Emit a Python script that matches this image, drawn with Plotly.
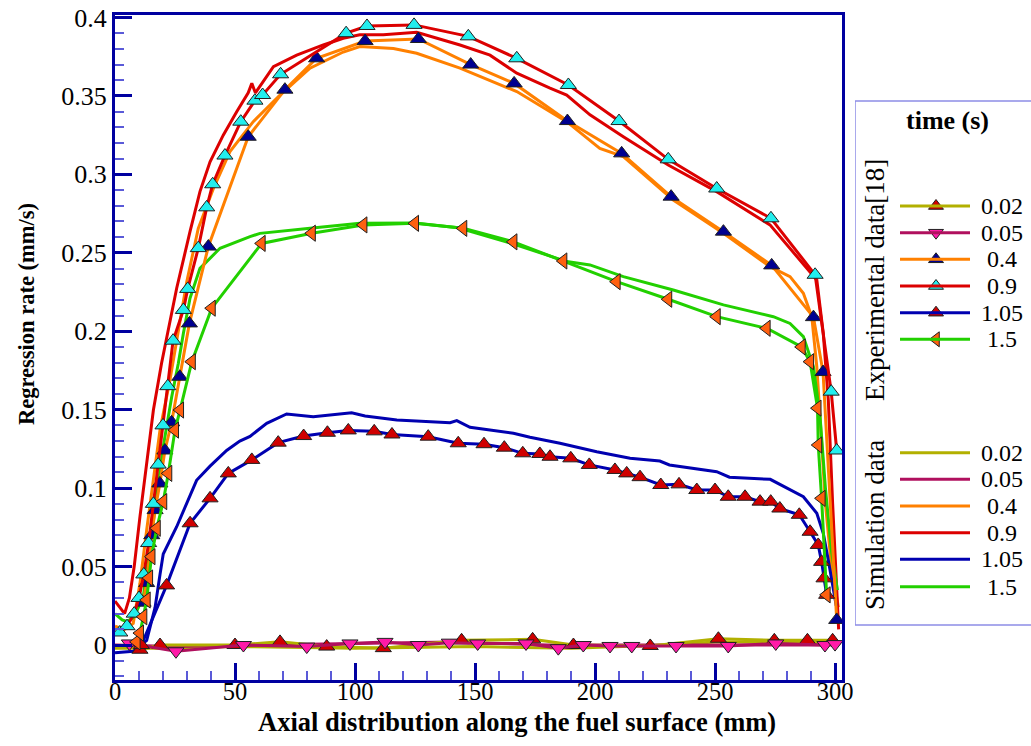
import plotly.graph_objects as go

# ---------------- data: regression rate (mm/s) vs axial position (mm) ----------------
# Simulation data
sim_002_x = [0, 20, 50, 100, 150, 190, 230, 250, 285, 300]
sim_002_y = [-0.002, -0.002, -0.001, -0.002, -0.001, -0.002, 0.0, 0.002, 0.002, 0.001]

sim_005_x = [0, 25, 60, 100, 140, 180, 220, 260, 300]
sim_005_y = [0.0, -0.001, 0.0, 0.001, 0.002, 0.0, 0.0, 0.0, 0.0]

sim_04_x = [0, 4, 7.6, 10.4, 13.2, 16, 18.75, 22.9, 25.7, 29.9, 34.7, 41, 47.9, 57.6, 68.75,
            81.25, 95.1, 102, 116, 125.7, 143.75, 167.4, 188.2, 202, 211.8, 232.6, 253.5,
            272.9, 281.25, 286.8, 290.3, 292.4, 293.75, 296, 298.5, 301.4]
sim_04_y = [0.012, 0.01, 0.0138, 0.0393, 0.0733, 0.105, 0.137, 0.169, 0.1944, 0.2316, 0.2656,
            0.291, 0.3145, 0.3336, 0.3506, 0.3677, 0.378, 0.3815, 0.3803, 0.3772, 0.3677,
            0.3528, 0.3336, 0.3166, 0.3113, 0.2837, 0.2624, 0.2412, 0.2348, 0.2242, 0.2093,
            0.1774, 0.1455, 0.09, 0.05, 0.024]

sim_09_x = [0, 2, 4, 6, 8, 10.4, 13.2, 16, 19.4, 22.2, 25.7, 31.25, 35.4, 39.6, 45.1, 50.7,
            55.5, 57, 58.5, 66, 75.7, 86.8, 95.1, 102, 111.8, 125.7, 143.75, 156.25, 167.4,
            181.25, 188.2, 197.9, 211.8, 230.5, 250.7, 272.9, 284, 292.4, 295.1, 297.2, 299,
            300.5, 301.5]
sim_09_y = [0.028, 0.024, 0.02, 0.03, 0.05, 0.0818, 0.1158, 0.1498, 0.1796, 0.2008, 0.2274,
            0.2635, 0.289, 0.308, 0.325, 0.34, 0.352, 0.358, 0.352, 0.3687, 0.376, 0.3825,
            0.3868, 0.389, 0.389, 0.3906, 0.3825, 0.376, 0.3645, 0.355, 0.3506, 0.338, 0.324,
            0.306, 0.289, 0.2678, 0.2475, 0.2327, 0.1987, 0.156, 0.09, 0.04, 0.01]

sim_105_x = [0, 7.6, 13.2, 16.7, 18.75, 20.1, 25.7, 34, 39.6, 46.5, 52, 56.25, 63.2, 71.5,
             82.6, 91, 98.6, 104.2, 117.4, 139.6, 142.4, 147.9, 166, 172.9, 185.4, 200.7,
             214.6, 227, 231, 250.7, 256, 273, 278.5, 286.8, 292.4, 295.1, 297.2, 299.3, 300.5]
sim_105_y = [-0.005, -0.004, 0.003, 0.024, 0.045, 0.058, 0.0754, 0.105, 0.114, 0.124, 0.13,
             0.133, 0.1413, 0.1473, 0.1455, 0.1466, 0.148, 0.146, 0.1434, 0.1417, 0.143,
             0.1388, 0.135, 0.1324, 0.1286, 0.1232, 0.119, 0.1173, 0.1148, 0.1105, 0.107,
             0.1056, 0.101, 0.0945, 0.084, 0.0712, 0.054, 0.037, 0.025]

sim_15_x = [0, 3, 5, 8, 11.8, 14.6, 17.4, 20.1, 23.6, 26.4, 28.5, 31.25, 35.4, 43.75, 56.25,
            60.4, 81.25, 102, 125, 143, 167.4, 188.2, 197.9, 211.8, 232.6, 253.5, 274.3,
            281.25, 286.8, 291, 293.75, 296, 298.5, 301]
sim_15_y = [0.02, 0.016, 0.015, 0.018, 0.0308, 0.0627, 0.0945, 0.1264, 0.158, 0.1796, 0.1987,
            0.221, 0.2401, 0.2529, 0.2603, 0.2624, 0.2656, 0.2688, 0.269, 0.266, 0.255,
            0.2444, 0.2423, 0.2348, 0.2263, 0.2168, 0.2093, 0.205, 0.1966, 0.1774, 0.1455,
            0.1, 0.06, 0.035]

# Experimental data [18]
exp_002_x = [10.4, 18.75, 50, 68.75, 88.2, 111.8, 144.4, 174, 191, 223, 251.4, 274.7, 288.5, 299]
exp_002_y = [-0.003, 0.0, 0.0, 0.002, -0.001, -0.002, 0.003, 0.0036, 0.0, -0.0006, 0.004,
             0.003, 0.003, 0.003]

exp_005_x = [6, 25.4, 53.5, 79.9, 97.9, 112.5, 126.4, 139.3, 151.1, 171.25, 184.7, 195.1,
             206.25, 215.3, 233.75, 255.5, 275.3, 295.8, 300]
exp_005_y = [0.001, -0.004, 0.0, -0.001, 0.001, 0.002, 0.0, 0.0015, 0.001, 0.001, -0.002,
             0.0, -0.0006, -0.0006, -0.0006, -0.0006, 0.001, 0.0, 0.0006]

exp_04_x = [11.7, 13.2, 15.3, 16.7, 18.7, 20.8, 23.6, 27, 31, 38.9, 55.5, 70.8, 84, 104.2,
            126.4, 148.2, 166.3, 188.5, 211.1, 231.7, 253.5, 273.6, 291, 295, 300.7]
exp_04_y = [0.027, 0.0395, 0.07, 0.086, 0.103, 0.124, 0.142, 0.171, 0.205, 0.254, 0.324,
            0.354, 0.374, 0.385, 0.3863, 0.37, 0.358, 0.334, 0.3134, 0.2858, 0.2635, 0.242,
            0.209, 0.174, 0.016]

exp_09_x = [2, 5, 8, 10, 12, 14, 16, 18, 20, 22, 24.2, 28.5, 30.3, 34.7, 38.2, 40.7, 45.8,
            52.4, 58.3, 61.5, 69, 96.3, 105, 124.6, 147.2, 167.4, 188.9, 210, 230.5, 250.7,
            273.3, 291.7, 298.4, 300.7]
exp_09_y = [0.008, 0.012, 0.02, 0.03, 0.045, 0.065, 0.09, 0.115, 0.14, 0.165, 0.194, 0.2136,
            0.227, 0.253, 0.279, 0.2937, 0.312, 0.3336, 0.347, 0.3506, 0.3638, 0.39, 0.3946,
            0.3953, 0.388, 0.374, 0.357, 0.334, 0.3096, 0.291, 0.272, 0.236, 0.1615, 0.124]

exp_105_x = [11, 21.5, 31.3, 39.6, 47.2, 57, 68, 78.6, 88.5, 97.2, 108, 115.4, 130.5, 143,
             153.75, 162.2, 169.9, 177, 181.25, 189.9, 197.6, 208.3, 213.2, 218.75, 227.4,
             235, 242.4, 250, 255.5, 262.5, 268.75, 273.2, 277, 285.1, 289.6, 293, 294.4,
             295.4, 296.5]
exp_105_y = [0.0, 0.038, 0.0776, 0.0935, 0.1094, 0.118, 0.129, 0.1332, 0.1353, 0.1368,
             0.1362, 0.1342, 0.1328, 0.1286, 0.128, 0.1258, 0.1222, 0.1218, 0.12, 0.119,
             0.1148, 0.1116, 0.1094, 0.107, 0.102, 0.1024, 0.0988, 0.0988, 0.0945, 0.0945,
             0.0914, 0.0914, 0.087, 0.083, 0.0722, 0.0638, 0.053, 0.0425, 0.032]

exp_15_x = [9, 10.4, 11.8, 13.2, 14.2, 15.2, 17.4, 20.1, 22.2, 25, 27.1, 32, 40.3, 61.1, 82,
            103.5, 125, 145.1, 166, 186.8, 209, 230.5, 250.7, 271.5, 286.1, 289.6, 292.7,
            293, 294.4, 296.5]
exp_15_y = [0.002, 0.0076, 0.018, 0.0287, 0.0427, 0.0563, 0.0744, 0.0914, 0.1094, 0.137,
            0.1498, 0.1806, 0.2147, 0.256, 0.2625, 0.2678, 0.2688, 0.2656, 0.257, 0.2448,
            0.2316, 0.2204, 0.2093, 0.2019, 0.19, 0.1806, 0.151, 0.1275, 0.0935, 0.032]

times = ["0.02", "0.05", "0.4", "0.9", "1.05", "1.5"]

# ---------------- styles ----------------
line_colors = ["#b2b000", "#b0105e", "#ff8000", "#dc0000", "#0000b0", "#22d000"]
marker_colors = ["#d00000", "#ff1aa8", "#000090", "#22eeee", "#d00000", "#ff6010"]
marker_symbols = ["triangle-up", "triangle-down", "triangle-up", "triangle-up",
                  "triangle-up", "triangle-left"]

sim_series = [(sim_002_x, sim_002_y), (sim_005_x, sim_005_y), (sim_04_x, sim_04_y),
              (sim_09_x, sim_09_y), (sim_105_x, sim_105_y), (sim_15_x, sim_15_y)]
exp_series = [(exp_002_x, exp_002_y), (exp_005_x, exp_005_y), (exp_04_x, exp_04_y),
              (exp_09_x, exp_09_y), (exp_105_x, exp_105_y), (exp_15_x, exp_15_y)]

AXIS_BLUE = "#0000a0"
MINOR_BLUE = "#5a5ad8"
SERIF = "Liberation Serif, Times New Roman, serif"

fig = go.Figure()

for (x, y), lc in zip(sim_series, line_colors):
    fig.add_trace(go.Scatter(x=x, y=y, mode="lines",
                             line=dict(color=lc, width=3), showlegend=False))

for (x, y), lc, mc, sym in zip(exp_series, line_colors, marker_colors, marker_symbols):
    fig.add_trace(go.Scatter(x=x, y=y, mode="lines+markers",
                             line=dict(color=lc, width=3),
                             marker=dict(symbol=sym, size=14, color=mc,
                                         line=dict(color="#202020", width=1)),
                             showlegend=False))

# ---------------- custom key, drawn on its own pixel-scaled axes ----------------
exp_rows = [206, 232.7, 259.3, 286, 312.7, 339.3]
sim_rows = [452.7, 479.3, 506, 532.7, 559.3, 586.7]
key_x0, key_x1, key_xm, key_label_x = 900, 970, 936, 1002

shapes = []
annotations = []
for i, t in enumerate(times):
    for row in (exp_rows[i], sim_rows[i]):
        shapes.append(dict(type="line", xref="x2", yref="y2", x0=key_x0, x1=key_x1,
                           y0=row, y1=row, line=dict(color=line_colors[i], width=3)))
        annotations.append(dict(xref="x2", yref="y2", x=key_label_x, y=row, text=t,
                                showarrow=False, xanchor="center", yanchor="middle",
                                borderpad=0,
                                font=dict(family=SERIF, size=24, color="black")))
    fig.add_trace(go.Scatter(x=[key_xm], y=[exp_rows[i]], mode="markers", xaxis="x2",
                             yaxis="y2", showlegend=False, hoverinfo="skip",
                             marker=dict(symbol=marker_symbols[i], size=13,
                                         color=marker_colors[i],
                                         line=dict(color="#202020", width=1))))

box_col = "#8c8ce6"
shapes += [
    dict(type="line", xref="x2", yref="y2", x0=855, x1=1031, y0=101, y1=101,
         line=dict(color=box_col, width=1.5)),
    dict(type="line", xref="x2", yref="y2", x0=855, x1=1031, y0=625, y1=625,
         line=dict(color=box_col, width=1.5)),
    dict(type="line", xref="x2", yref="y2", x0=855, x1=855, y0=101, y1=625,
         line=dict(color=box_col, width=1.5)),
]
annotations += [
    dict(xref="x2", yref="y2", x=947, y=120, text="<b>time (s)</b>", showarrow=False,
         font=dict(family=SERIF, size=26, color="black")),
    dict(xref="x2", yref="y2", x=875, y=280, text="Experimental data[18]", showarrow=False,
         textangle=-90, font=dict(family=SERIF, size=27, color="black")),
    dict(xref="x2", yref="y2", x=875, y=525, text="Simulation data", showarrow=False,
         textangle=-90, font=dict(family=SERIF, size=27, color="black")),
]

W, H = 1031, 746
ml, mt, mb = 115, 15, 66
plot_w = W - ml
plot_h = H - mt - mb
main_right = (842 - ml) / plot_w
key_left = (855 - ml) / plot_w


def paper_x(px):
    return (px - ml) / plot_w


def paper_y(py):
    return (H - mb - py) / plot_h


# axis titles placed as free text
annotations += [
    dict(xref="paper", yref="paper", x=paper_x(517), y=paper_y(722),
         text="<b>Axial distribution along the fuel surface (mm)</b>", showarrow=False,
         xanchor="center", yanchor="middle", borderpad=0,
         font=dict(family=SERIF, size=26.5, color="black")),
    dict(xref="paper", yref="paper", x=paper_x(26), y=paper_y(314),
         text="<b>Regression rate (mm/s)</b>", showarrow=False, textangle=-90,
         xanchor="center", yanchor="middle",
         font=dict(family=SERIF, size=22.5, color="black")),
]

fig.update_layout(
    width=W, height=H, autosize=False,
    margin=dict(l=ml, r=0, t=mt, b=mb, pad=0, autoexpand=False),
    paper_bgcolor="white", plot_bgcolor="white",
    font=dict(family=SERIF, color="black"),
    shapes=shapes, annotations=annotations,
    xaxis=dict(domain=[0, main_right], range=[0, 302.9], automargin=False,
               tickmode="array", tickvals=[0, 50, 100, 150, 200, 250, 300],
               ticks="inside", ticklen=17, tickwidth=3, tickcolor=AXIS_BLUE,
               ticklabelstandoff=-12,
               minor=dict(dtick=10, ticks="inside", ticklen=9, tickwidth=1.5,
                          tickcolor=MINOR_BLUE),
               showline=True, linecolor=AXIS_BLUE, linewidth=3, mirror=True,
               showgrid=False, zeroline=False,
               tickfont=dict(family=SERIF, size=24.5)),
    yaxis=dict(range=[-0.0223, 0.4016], automargin=False,
               tickmode="array", tickvals=[0, 0.05, 0.1, 0.15, 0.2, 0.25, 0.3, 0.35, 0.4],
               ticktext=["0", "0.05", "0.1", "0.15", "0.2", "0.25", "0.3", "0.35", "0.4"],
               ticks="inside", ticklen=17, tickwidth=3, tickcolor=AXIS_BLUE,
               minor=dict(dtick=0.01, ticks="inside", ticklen=9, tickwidth=1.5,
                          tickcolor=MINOR_BLUE),
               showline=True, linecolor=AXIS_BLUE, linewidth=3, mirror=True,
               showgrid=False, zeroline=False,
               tickfont=dict(family=SERIF, size=26)),
    xaxis2=dict(domain=[key_left, 1], range=[855, 1031], visible=False, fixedrange=True,
                automargin=False),
    yaxis2=dict(domain=[0, 1], range=[680, 15], anchor="x2", visible=False, fixedrange=True,
                automargin=False),
)

fig.write_html("out.html")
